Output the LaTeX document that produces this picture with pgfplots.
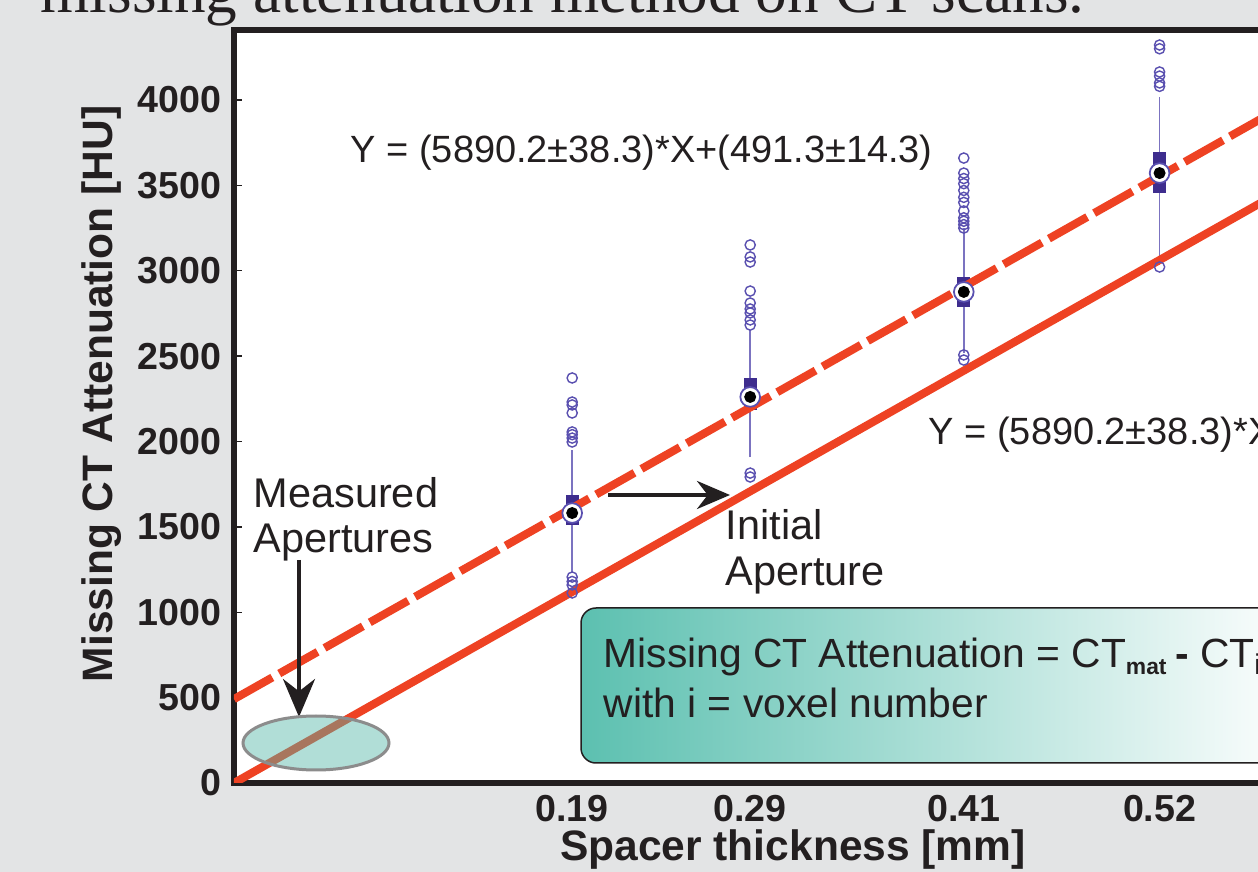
\documentclass[border=0pt]{standalone}
\usepackage{fontspec}
\setmainfont{Liberation Sans}
\newfontfamily\timesfont{Liberation Serif}
\usepackage{pgfplots}
\pgfplotsset{compat=1.18}
\usetikzlibrary{arrows.meta}

\definecolor{bggray}{RGB}{227,228,229}
\definecolor{axblack}{RGB}{35,31,32}
\definecolor{fitred}{RGB}{238,66,35}
\definecolor{boxpurple}{RGB}{62,45,142}
\definecolor{whiskpurple}{RGB}{123,115,192}
\definecolor{outpurple}{RGB}{90,80,176}
\definecolor{boxteal}{RGB}{92,192,176}
\definecolor{elliteal}{RGB}{84,182,167}
\definecolor{elligray}{RGB}{140,140,140}

\begin{document}
\begin{tikzpicture}
% page background
\fill[bggray] (0,0) rectangle (125.8mm,87.2mm);

\begin{axis}[
    at={(23.4mm,8.9mm)},
    scale only axis,
    width=124.6mm, height=75.3mm,
    xmin=0, xmax=0.70,
    ymin=0, ymax=4410,
    axis background/.style={fill=white},
    axis line style={line width=0.6mm, axblack},
    xtick={0.19,0.29,0.41,0.52},
    xticklabels={0.19,0.29,0.41,0.52},
    ytick={0,500,1000,1500,2000,2500,3000,3500,4000},
    yticklabels={0,500,1000,1500,2000,2500,3000,3500,4000},
    ytick pos=left, xtick pos=bottom,
    tick align=inside,
    major tick length=0.8mm,
    xtick style={draw=none},
    ytick style={axblack, line width=0.4pt},
    ticklabel style={font=\fontsize{10.7}{12}\selectfont\bfseries, text=axblack},
]
% whiskers
\addplot[whiskpurple, line width=0.45pt] coordinates {(0.19,1230) (0.19,1950)};
\addplot[whiskpurple, line width=0.45pt] coordinates {(0.29,1909) (0.29,2653)};
\addplot[whiskpurple, line width=0.45pt] coordinates {(0.41,2518) (0.41,3250)};
\addplot[whiskpurple, line width=0.45pt] coordinates {(0.52,3034) (0.52,4018)};
% quartile boxes
\addplot[boxpurple, line width=1.3mm] coordinates {(0.19,1511) (0.19,1687)};
\addplot[boxpurple, line width=1.3mm] coordinates {(0.29,2184) (0.29,2372)};
\addplot[boxpurple, line width=1.3mm] coordinates {(0.41,2788) (0.41,2963)};
\addplot[boxpurple, line width=1.3mm] coordinates {(0.52,3455) (0.52,3695)};
% outliers
\addplot[only marks, mark=o, mark size=1.45pt, mark options={outpurple, line width=0.4pt}] coordinates {
    (0.19,2372) (0.19,2231) (0.19,2214) (0.19,2167) (0.19,2056) (0.19,2040) (0.19,2020) (0.19,1997)
    (0.19,1206) (0.19,1180) (0.19,1160) (0.19,1113)
    (0.29,3151) (0.29,3081) (0.29,3051) (0.29,2881) (0.29,2811) (0.29,2776) (0.29,2753) (0.29,2712) (0.29,2682)
    (0.29,1815) (0.29,1792)
    (0.41,3660) (0.41,3572) (0.41,3540) (0.41,3510) (0.41,3470) (0.41,3430) (0.41,3400) (0.41,3350)
    (0.41,3310) (0.41,3290) (0.41,3270) (0.41,3250)
    (0.41,2507) (0.41,2477)
    (0.52,4322) (0.52,4300) (0.52,4164) (0.52,4140) (0.52,4100) (0.52,4080)
    (0.52,3022)
};
% medians
\addplot[only marks, mark=*, mark size=2.8pt, mark options={fill=white, draw=outpurple, line width=0.5pt}] coordinates {
    (0.19,1581) (0.29,2261) (0.41,2876) (0.52,3572)};
\addplot[only marks, mark=*, mark size=1.5pt, mark options={fill=black, draw=black}] coordinates {
    (0.19,1581) (0.29,2261) (0.41,2876) (0.52,3572)};
% fitted lines
\addplot[fitred, line width=2.3pt] coordinates {(0,0) (0.70,4123.1)};
\addplot[fitred, line width=2.3pt, dash pattern=on 4.4mm off 0.8mm] coordinates {(0,491.3) (0.70,4614.4)};
\end{axis}

% annotations in pixel coordinates of the reference (1 px = 0.1 mm, y downwards)
\begin{scope}[x=0.1mm, y=-0.1mm, yshift=87.2mm]
\node[anchor=base west, inner sep=0, text=axblack, font=\timesfont\fontsize{18}{20}\selectfont]
    at (40,13) {missing attenuation method on CT scans.};
\node[rotate=90, text=axblack, font=\fontsize{12.1}{14}\selectfont\bfseries] at (102,394) {Missing CT Attenuation [HU]};
\node[text=axblack, font=\fontsize{12.1}{14}\selectfont\bfseries] at (793,850) {Spacer thickness [mm]};

\node[anchor=base west, inner sep=0, text=axblack, font=\fontsize{10.8}{12}\selectfont] at (350,163) {Y = (5890.2±38.3)*X+(491.3±14.3)};
\node[anchor=base west, inner sep=0, text=axblack, font=\fontsize{10.8}{12}\selectfont] at (928,445) {Y = (5890.2±38.3)*X};

\node[anchor=base west, inner sep=0, text=axblack, font=\fontsize{11.8}{13}\selectfont] at (253,508) {Measured};
\node[anchor=base west, inner sep=0, text=axblack, font=\fontsize{11.8}{13}\selectfont] at (253,553) {Apertures};
\node[anchor=base west, inner sep=0, text=axblack, font=\fontsize{11.8}{13}\selectfont] at (725,540) {Initial};
\node[anchor=base west, inner sep=0, text=axblack, font=\fontsize{11.8}{13}\selectfont] at (725,586) {Aperture};

\draw[axblack, line width=0.4mm, -{Stealth[length=3.8mm, width=3.2mm]}] (299,560) -- (299,717);
\draw[axblack, line width=0.4mm, -{Stealth[length=3.3mm, width=2.8mm]}] (608,495) -- (730,495);

\draw[elligray, line width=0.3mm, fill=elliteal, fill opacity=0.45] (316,743) ellipse [x radius=7.3mm, y radius=2.7mm];

\draw[axblack, line width=0.15mm, rounded corners=1.5mm, left color=boxteal, right color=white] (581,608) rectangle (1300,763);
\node[anchor=base west, inner sep=0, text=axblack, font=\fontsize{11.6}{14}\selectfont] at (603,668)
    {Missing CT Attenuation = CT\textsubscript{\fontsize{6.5}{7}\selectfont\bfseries mat}\,\textbf{-} CT\textsubscript{i}};
\node[anchor=base west, inner sep=0, text=axblack, font=\fontsize{11.6}{14}\selectfont] at (603,718)
    {with i = voxel number};
\end{scope}

\pgfresetboundingbox
\useasboundingbox (0,0) rectangle (125.8mm,87.2mm);
\end{tikzpicture}
\end{document}
